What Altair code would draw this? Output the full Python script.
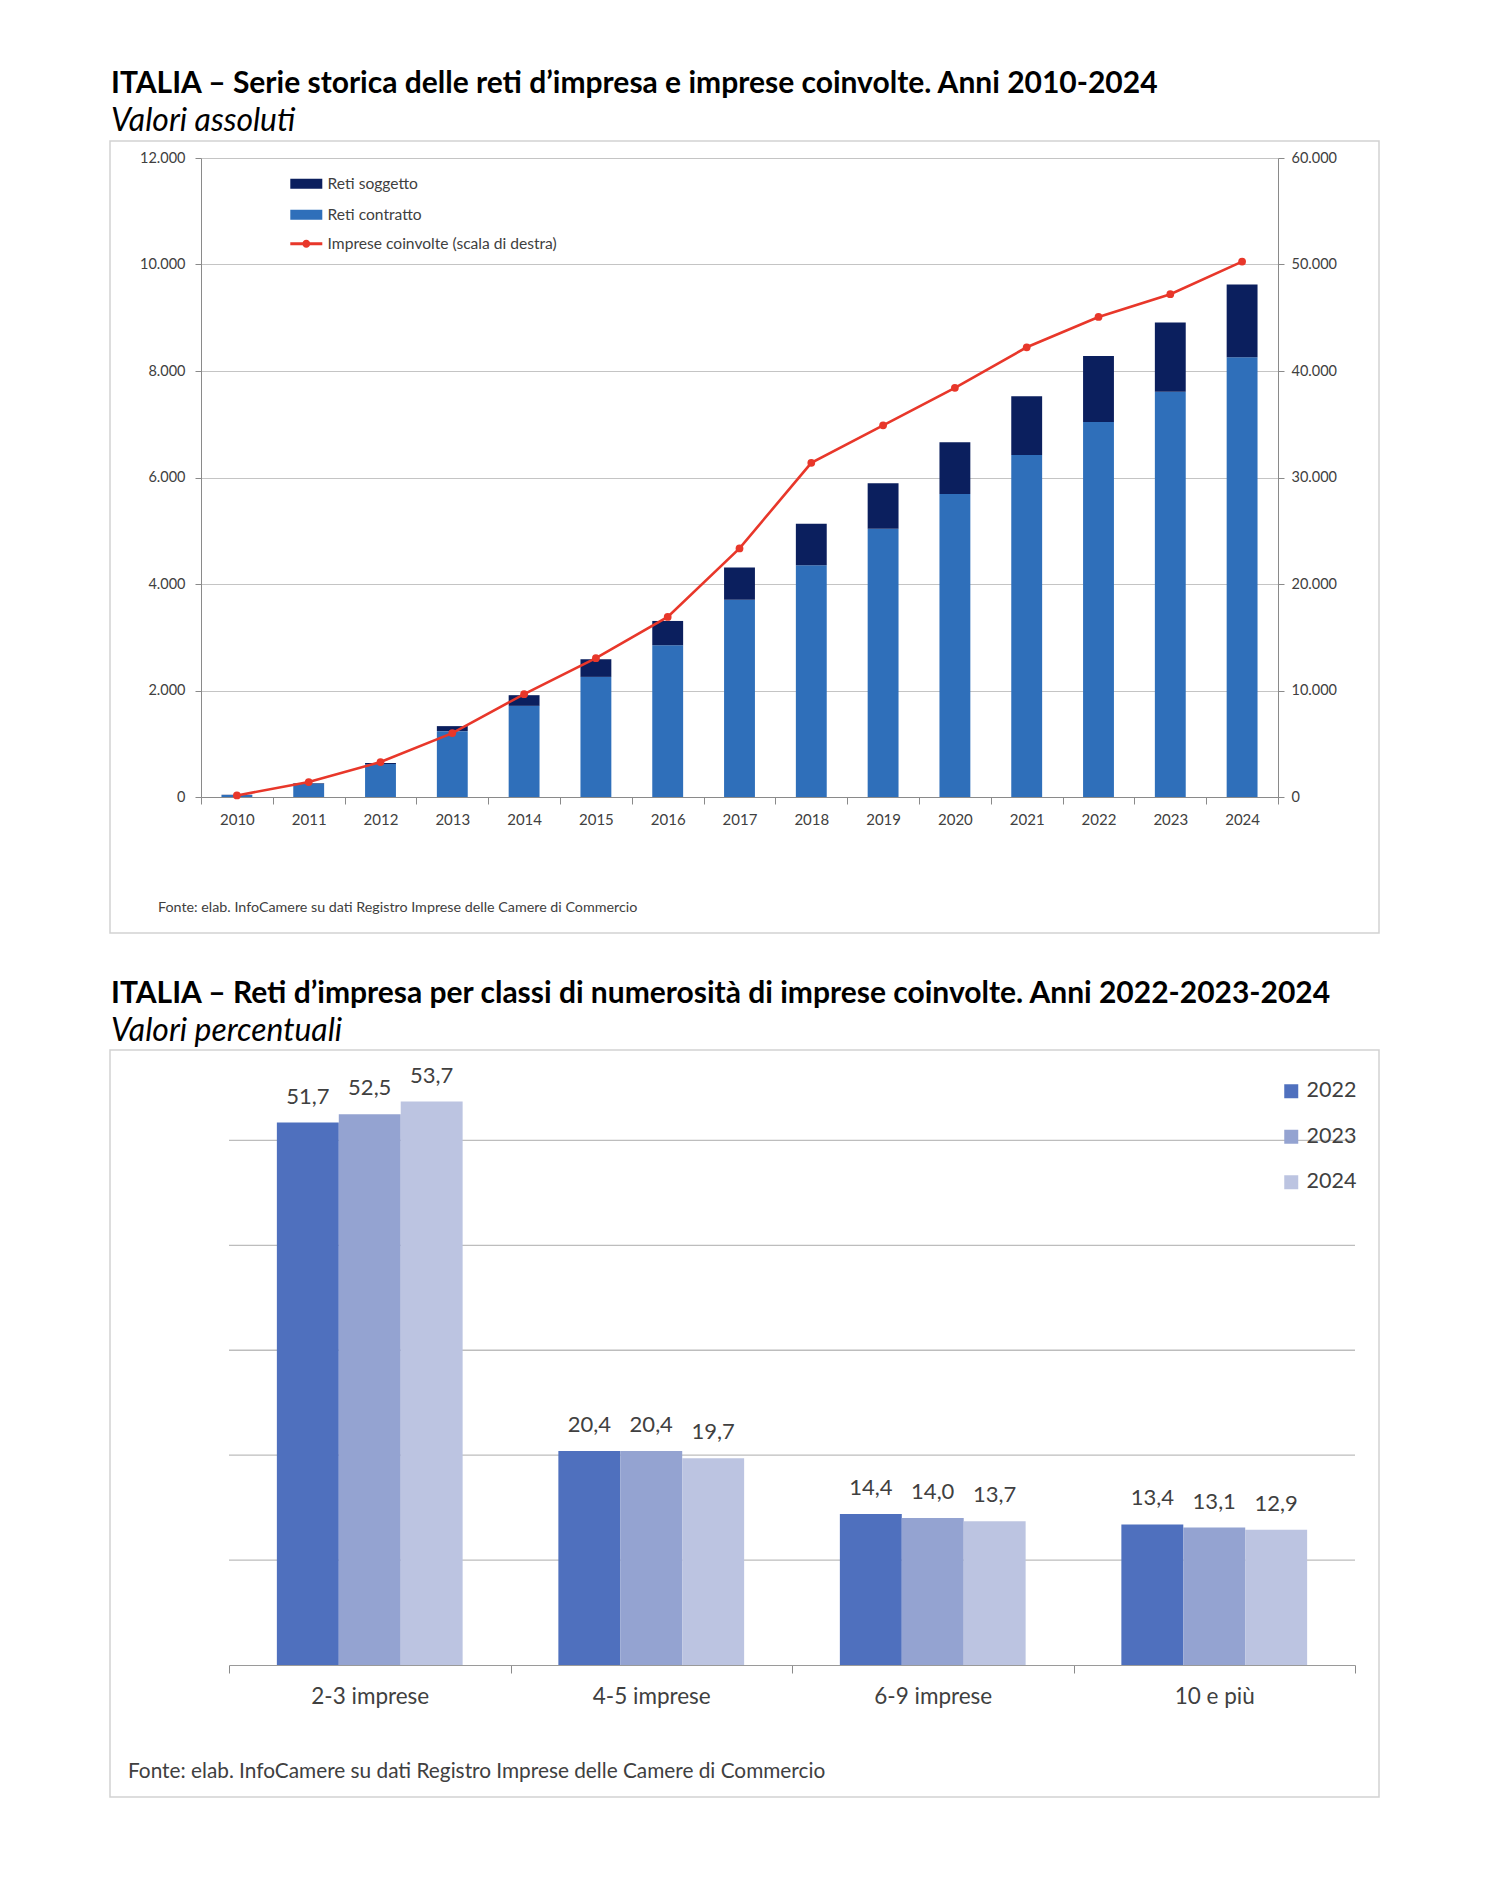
import altair as alt
import pandas as pd

# ---------------- data: chart 1 ----------------
anni = ["2010", "2011", "2012", "2013", "2014", "2015", "2016", "2017",
        "2018", "2019", "2020", "2021", "2022", "2023", "2024"]
reti_contratto = [38, 250, 620, 1237, 1712, 2256, 2850, 3706, 4350, 5038, 5692, 6421, 7041, 7611, 8257]
reti_soggetto = [4, 10, 20, 94, 200, 331, 456, 606, 780, 855, 972, 1106, 1241, 1299, 1366]
imprese_coinvolte = [150, 1406, 3281, 6000, 9656, 13031, 16906, 23344, 31378, 34897, 38416, 42229, 45077, 47214, 50272]

serie_barre = ["Reti soggetto", "Reti contratto"]
serie_linea = "Imprese coinvolte (scala di destra)"
tick_sx = [0, 2000, 4000, 6000, 8000, 10000, 12000]
tick_dx = [0, 10000, 20000, 30000, 40000, 50000, 60000]

# ---------------- data: chart 2 ----------------
classi = ["2-3 imprese", "4-5 imprese", "6-9 imprese", "10 e più"]
anni2 = ["2022", "2023", "2024"]
val_2022 = [51.7, 20.4, 14.4, 13.4]
val_2023 = [52.5, 20.4, 14.0, 13.1]
val_2024 = [53.7, 19.7, 13.7, 12.9]
griglia2 = [10, 20, 30, 40, 50]

titolo1 = "ITALIA \u2013 Serie storica delle reti d\u2019impresa e imprese coinvolte. Anni 2010-2024"
sottotitolo1 = "Valori assoluti"
titolo2 = "ITALIA \u2013 Reti d\u2019impresa per classi di numerosit\u00e0 di imprese coinvolte. Anni 2022-2023-2024"
sottotitolo2 = "Valori percentuali"
fonte = "Fonte: elab.  InfoCamere su dati Registro Imprese delle Camere di Commercio"

# ---------------- styles ----------------
FONT = "Lato"
NAVY = "#0B1F5E"
BLUE = "#2F6FBA"
RED = "#E8372A"
C2 = ["#4F70BE", "#94A3D1", "#BCC4E1"]
GRID = "#C4C4C4"
GRID2 = "#BDBDBD"
AXIS = "#8A8A8A"
BOXC = "#D2D2D2"
LAB = "#404040"

# ---------------- tables ----------------
rows = []
for i, a in enumerate(anni):
    rows.append({"anno": a, "serie": serie_barre[1], "valore": reti_contratto[i], "ord": 0})
    rows.append({"anno": a, "serie": serie_barre[0], "valore": reti_soggetto[i], "ord": 1})
df_bar = pd.DataFrame(rows)
df_line = pd.DataFrame({"anno": anni, "imprese": imprese_coinvolte, "serie": [serie_linea] * len(anni)})

rows2 = []
for j, serie in enumerate([val_2022, val_2023, val_2024]):
    for i, c in enumerate(classi):
        rows2.append({"classe": c, "anno": anni2[j], "valore": serie[i]})
df2 = pd.DataFrame(rows2)
df_grid2 = pd.DataFrame({"v": griglia2})

one = pd.DataFrame({"k": [0]})


def text_mark(t, x, y, size, weight="normal", style="normal", color="black"):
    return alt.Chart(pd.DataFrame({"t": [t]})).mark_text(
        align="left", baseline="alphabetic", font=FONT, fontSize=size,
        fontWeight=weight, fontStyle=style, color=color
    ).encode(x=alt.value(x), y=alt.value(y), text="t:N")


def rect_mark(x, x2, y, y2, **kw):
    return alt.Chart(one).mark_rect(**kw).encode(
        x=alt.value(x), x2=alt.value(x2), y=alt.value(y), y2=alt.value(y2))


num_expr = "replace(format(datum.value, ','), ',', '.')"

# ---------------- chart 1 ----------------
W1, H1 = 1077, 639

x1 = alt.X("anno:N", sort=anni, title=None,
           scale=alt.Scale(paddingInner=0, paddingOuter=0),
           axis=alt.Axis(labelAngle=0, tickBand="extent", tickSize=7, tickColor=AXIS,
                         domainColor=AXIS, labelPadding=8.5, labelFont=FONT,
                         labelFontSize=15, labelColor=LAB, grid=False))

bars = alt.Chart(df_bar).mark_bar(width=alt.RelativeBandSize(0.43)).encode(
    x=x1,
    y=alt.Y("valore:Q", stack="zero", title=None,
            scale=alt.Scale(domain=[0, 12000], nice=False),
            axis=alt.Axis(values=tick_sx, labelExpr=num_expr,
                          grid=True, gridColor=GRID, domainColor=AXIS, tickColor=AXIS,
                          tickSize=6, labelPadding=10, labelFont=FONT, labelFontSize=14.5,
                          labelColor=LAB)),
    color=alt.Color("serie:N", scale=alt.Scale(domain=serie_barre, range=[NAVY, BLUE]),
                    legend=alt.Legend(orient="none", legendX=86.5, legendY=18, title=None,
                                      symbolType="M-1,-1H5.4V1H-1Z", symbolSize=100,
                                      symbolStrokeWidth=0, labelOffset=24.5, labelFont=FONT,
                                      labelFontSize=15.6, labelColor=LAB, rowPadding=14,
                                      padding=0, labelLimit=500)),
    order=alt.Order("ord:Q", sort="ascending"),
)

yr = alt.Y("imprese:Q", title=None, scale=alt.Scale(domain=[0, 60000], nice=False),
           axis=alt.Axis(orient="right", values=tick_dx, labelExpr=num_expr,
                         grid=False, domainColor=AXIS, tickColor=AXIS, tickSize=6,
                         labelPadding=7, labelFont=FONT, labelFontSize=14.5, labelColor=LAB))

line = alt.Chart(df_line).mark_line(color=RED, strokeWidth=2.6).encode(x=x1, y=yr)
points = alt.Chart(df_line).mark_circle(size=60, opacity=1).encode(
    x=x1,
    y=alt.Y("imprese:Q"),
    fill=alt.Fill("serie:N", scale=alt.Scale(domain=[serie_linea], range=[RED]),
                  legend=alt.Legend(orient="none", legendX=86.5, legendY=78, title=None,
                                    symbolType="M-1,-0.3H5.4V0.3H-1Z M1.4,0A0.8,0.8 0 1,1 3,0A0.8,0.8 0 1,1 1.4,0Z",
                                    symbolSize=100, symbolStrokeWidth=0, labelOffset=24.5,
                                    labelFont=FONT, labelFontSize=15.6, labelColor=LAB,
                                    padding=0, labelLimit=500)),
)

chart1 = alt.layer(
    rect_mark(-193, 1279, -149, 783, opacity=0),
    rect_mark(-91, 1178, -17, 775, fillOpacity=0, stroke=BOXC, strokeWidth=1.5),
    bars,
    alt.layer(line, points),
    text_mark(titolo1, -90, -65, 30, weight="bold"),
    text_mark(sottotitolo1, -90, -27, 31.9, style="italic"),
    text_mark(fonte, -43, 754, 14.3, color=LAB),
).resolve_scale(y="independent").properties(width=W1, height=H1)

# ---------------- chart 2 ----------------
# same plot origin as chart 1; the band range starts 28 px to the right
W2, H2 = 1154, 598
X2_START = 28

x2 = alt.X("classe:N", sort=classi, title=None,
           scale=alt.Scale(range=[X2_START, W2], paddingInner=0, paddingOuter=0),
           axis=alt.Axis(labelAngle=0, tickBand="extent", tickSize=8, tickColor=AXIS,
                         domainColor="#9A9A9A", labelPadding=12, labelFont=FONT, labelFontSize=22.5,
                         labelColor=LAB, grid=False))
xo = alt.XOffset("anno:N", sort=anni2, scale=alt.Scale(paddingInner=0, paddingOuter=0.773))
y2s = alt.Scale(domain=[0, 57], nice=False)

grid2 = alt.Chart(df_grid2).mark_rule(color=GRID2, strokeWidth=1.3).encode(
    x=alt.value(X2_START), x2=alt.value(W2),
    y=alt.Y("v:Q", scale=y2s, axis=None))

bars2 = alt.Chart(df2).mark_bar().encode(
    x=x2, xOffset=xo, y=alt.Y("valore:Q", title=None, scale=y2s, axis=None),
    color=alt.Color("anno:N", scale=alt.Scale(domain=anni2, range=C2),
                    legend=alt.Legend(orient="none", legendX=1079.5, legendY=13.5, title=None,
                                      symbolType="square", symbolSize=196, symbolStrokeWidth=0,
                                      labelOffset=4.5, labelFont=FONT, labelFontSize=21.5,
                                      labelColor=LAB, rowPadding=22.5, padding=0)),
)
labels2 = alt.Chart(df2).transform_calculate(
    etichetta="replace(format(datum.valore, '.1f'), '.', ',')"
).mark_text(dy=-19, baseline="alphabetic", font=FONT, fontSize=22, color=LAB).encode(
    x=x2, xOffset=xo, y=alt.Y("valore:Q", scale=y2s, axis=None), text="etichetta:N")

chart2 = alt.layer(
    rect_mark(-193, 1279, -126, 804, opacity=0),
    rect_mark(-91, 1178, -17, 730, fillOpacity=0, stroke=BOXC, strokeWidth=1.5),
    grid2,
    bars2,
    labels2,
    text_mark(titolo2, -90, -64, 30, weight="bold"),
    text_mark(sottotitolo2, -90, -26, 31.9, style="italic"),
    text_mark(fonte, -73, 711, 20.8, color=LAB),
).properties(width=W2, height=H2)

chart = alt.vconcat(chart1, chart2, spacing=0).resolve_scale(
    color="independent", fill="independent", x="independent", y="independent"
).properties(padding={"top": 1, "left": 0, "right": 0, "bottom": 0}).configure(
    font=FONT, view=alt.ViewConfig(stroke="transparent", strokeWidth=0))

chart.save("out.html", embed_options={"renderer": "svg", "actions": False})
